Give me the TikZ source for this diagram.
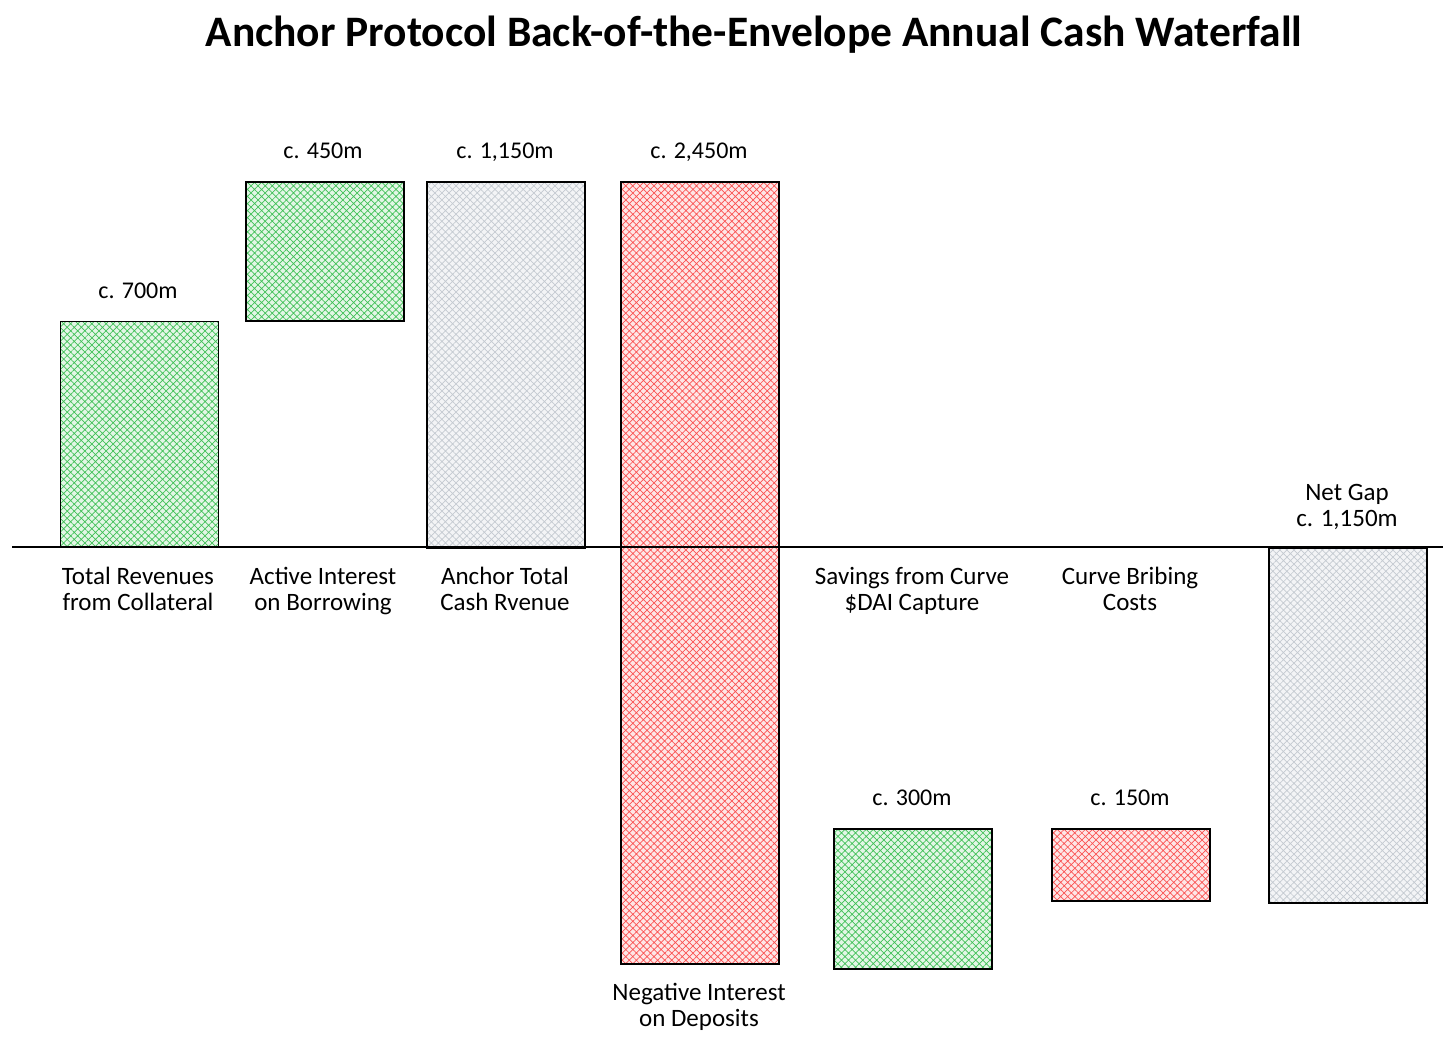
\documentclass[tikz,border=0pt]{standalone}
\usepackage{fontspec}
\setmainfont{Carlito}
\usetikzlibrary{patterns.meta}
\definecolor{vertHachure}{HTML}{40C057}
\definecolor{vertFond}{HTML}{E3F6E6}
\definecolor{rougeHachure}{HTML}{FA5252}
\definecolor{rougeFond}{HTML}{FEE6E6}
\definecolor{grisHachure}{HTML}{C4CAD1}
\definecolor{grisFond}{HTML}{F3F4F6}
\begin{document}
\begin{tikzpicture}[x=1pt,y=-1pt]
	\tikzstyle{barre}=[draw=black,line width=1.6pt,inner sep=0pt,anchor=north west,minimum width=158pt]
	\tikzstyle{verte}=[barre,preaction={fill=vertFond},pattern={Hatch[angle=45,distance=5pt,line width=0.7pt]},pattern color=vertHachure]
	\tikzstyle{rouge}=[barre,preaction={fill=rougeFond},pattern={Hatch[angle=45,distance=5pt,line width=0.7pt]},pattern color=rougeHachure]
	\tikzstyle{grise}=[barre,preaction={fill=grisFond},pattern={Hatch[angle=45,distance=5pt,line width=0.7pt]},pattern color=grisHachure]
	\tikzstyle{valeur}=[font=\fontsize{24}{26}\selectfont,anchor=base]
	\tikzstyle{legende}=[font=\fontsize{25}{26}\selectfont,align=center,anchor=north]
	\tikzstyle{axe}=[line width=1.6pt]
	\def\Base{547}
	\def\Haut{181}
	\def\Bas{828}
	\def\LigneValHaut{158}
	\def\LigneValBas{805}
	\def\LigneLeg{564}
	\useasboundingbox (0,0) rectangle (1456,1045);
	\node[font=\bfseries\fontsize{43.5}{46}\selectfont] (Titre) at (754,35) {Anchor Protocol Back-of-the-Envelope Annual Cash Waterfall};
	% les barres
	\node[verte,minimum height=226pt] (Ba) at (60,321) {};
	\node[verte,minimum height=139pt] (Bb) at (245,\Haut) {};
	\node[grise,minimum height=366pt] (Bc) at (426,\Haut) {};
	\node[rouge,minimum height=782pt] (Bd) at (620,\Haut) {};
	\node[verte,minimum height=140pt] (Be) at (833,\Bas) {};
	\node[rouge,minimum height=72pt] (Bf) at (1051,\Bas) {};
	\node[grise,minimum height=355pt] (Bg) at (1268,\Base) {};
	\coordinate (AxeG) at (12,\Base);
	\coordinate (AxeD) at (1443,\Base);
	\draw[axe] (AxeG)--(AxeD);
	% les valeurs
	\node[valeur] (Va) at (138,298) {c. 700m};
	\node[valeur] (Vb) at (323,\LigneValHaut) {c. 450m};
	\node[valeur] (Vc) at (505,\LigneValHaut) {c. 1,150m};
	\node[valeur] (Vd) at (699,\LigneValHaut) {c. 2,450m};
	\node[valeur] (Ve) at (912,\LigneValBas) {c. 300m};
	\node[valeur] (Vf) at (1130,\LigneValBas) {c. 150m};
	\node[legende] (Vg) at (1347,481) {Net Gap\\c. 1,150m};
	% les legendes
	\node[legende] (La) at (138,\LigneLeg) {Total Revenues\\from Collateral};
	\node[legende] (Lb) at (323,\LigneLeg) {Active Interest\\on Borrowing};
	\node[legende] (Lc) at (505,\LigneLeg) {Anchor Total\\Cash Rvenue};
	\node[legende] (Ld) at (699,980) {Negative Interest\\on Deposits};
	\node[legende] (Le) at (912,\LigneLeg) {Savings from Curve\\\$DAI Capture};
	\node[legende] (Lf) at (1130,\LigneLeg) {Curve Bribing\\Costs};
\end{tikzpicture}
\end{document}
